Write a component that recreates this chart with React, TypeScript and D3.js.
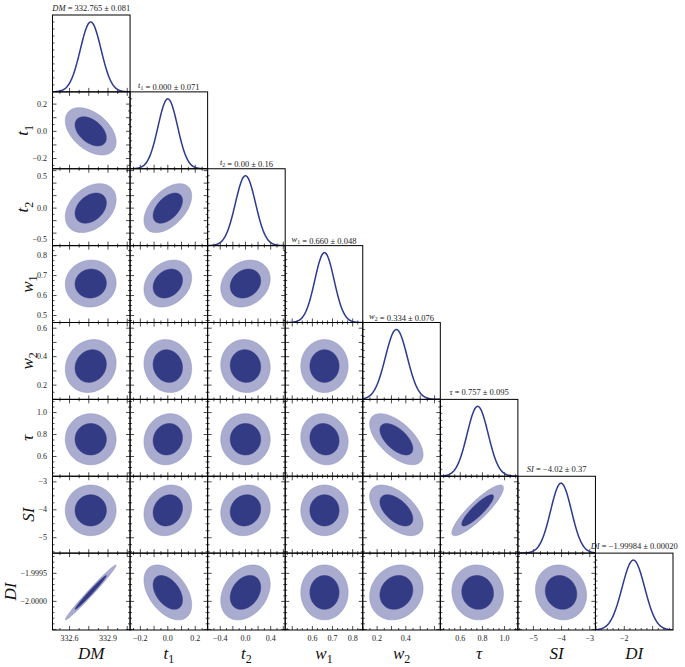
import { useEffect, useRef } from 'react';
import * as d3 from 'd3';

// parameter names (base + subscript)
const baseNames = ['DM', 't', 't', 'w', 'w', 'τ', 'SI', 'DI'];
const subNames = ['', '1', '2', '1', '2', '', '', ''];

// marginal summaries read from the titles
const means = [332.765, 0.0, 0.0, 0.66, 0.334, 0.757, -4.02, -1.99984];
const sigmas = [0.081, 0.071, 0.16, 0.048, 0.076, 0.095, 0.37, 0.0002];
const meanText = ['332.765', '0.000', '0.00', '0.660', '0.334', '0.757', '−4.02', '−1.99984'];
const sigmaText = ['0.081', '0.071', '0.16', '0.048', '0.076', '0.095', '0.37', '0.00020'];

// axis ranges
const lows = [332.467, -0.275, -0.6, 0.465, 0.1, 0.42, -5.55, -2.00051];
const highs = [333.072, 0.29, 0.63, 0.85, 0.64, 1.12, -2.8, -1.99914];

// ticks
const majorSteps = [0.15, 0.1, 0.2, 0.1, 0.1, 0.2, 1, 0.0005];
const minorSteps = [0.075, 0.05, 0.1, 0.025, 0.05, 0.05, 0.25, 0.0001];
const xTickLabels = [[332.6, 332.9], [-0.2, 0, 0.2], [-0.4, 0, 0.4], [0.6, 0.7, 0.8], [0.2, 0.4], [0.6, 0.8, 1.0], [-5, -4, -3], [-2]];
const yTickLabels = [[], [-0.2, 0, 0.2], [-0.5, 0, 0.5], [0.5, 0.6, 0.7, 0.8], [0.2, 0.4, 0.6], [0.6, 0.8, 1.0], [-5, -4, -3], [-2.0, -1.9995]];
const xFormats = ['.1f', '.1f', '.1f', '.1f', '.1f', '.1f', 'd', 'd'];
const yFormats = ['.1f', '.1f', '.1f', '.1f', '.1f', '.1f', 'd', '.4f'];

// pairwise correlations (row param vs earlier column params)
const correlations = [
  [],
  [-0.45],
  [0.35, 0.5],
  [0.03, 0.25, 0.2],
  [0.12, -0.1, -0.05, 0.0],
  [0.0, 0.1, 0.0, -0.1, -0.6],
  [0.0, 0.15, 0.1, 0.0, -0.55, 0.88],
  [0.987, -0.45, 0.3, 0.0, 0.15, -0.05, -0.1],
];

const DARK = '#323b84';
const LIGHT = '#a9abcf';
const LINE = '#2c3990';
const SERIF = '"Liberation Serif", "DejaVu Serif", serif';
const R68 = Math.sqrt(-2 * Math.log(0.32));
const R95 = Math.sqrt(-2 * Math.log(0.05));

function tickValues(i: number, step: number) {
  const anchor = xTickLabels[i][0];
  const out: number[] = [];
  const k0 = Math.ceil((lows[i] - anchor) / step - 1e-9);
  for (let k = k0; anchor + k * step <= highs[i] + 1e-12; k++) out.push(anchor + k * step);
  return out;
}

function addName(t: any, i: number, size: number, italicAll = true) {
  t.append('tspan').attr('font-style', italicAll ? 'italic' : 'italic').text(baseNames[i]);
  if (subNames[i]) {
    t.append('tspan').attr('font-size', size * 0.7).attr('dy', size * 0.25).text(subNames[i]);
    t.append('tspan').attr('dy', -size * 0.25).text('');
  }
}

export default function App() {
  const svgRef = useRef<SVGSVGElement>(null);

  useEffect(() => {
    if (!svgRef.current) return;
    const svg = d3.select(svgRef.current);
    svg.selectAll('*').remove();
    const n = baseNames.length;

    const colX = d3.scaleLinear().domain([0, n]).range([52.5, 673]);
    const rowY = d3.scaleLinear().domain([0, n]).range([15, 630]);
    const xs = baseNames.map((_, i) => d3.scaleLinear().domain([lows[i], highs[i]]).range([colX(i), colX(i + 1)]));
    const ys = baseNames.map((_, i) => d3.scaleLinear().domain([lows[i], highs[i]]).range([rowY(i + 1), rowY(i)]));

    const defs = svg.append('defs');
    const tickG = svg.append('g').attr('stroke', '#000').attr('stroke-width', 0.7);

    for (let i = 0; i < n; i++) {
      for (let j = 0; j <= i; j++) {
        const x0 = colX(j), x1 = colX(j + 1), y0 = rowY(i), y1 = rowY(i + 1);
        const cid = `clip-${i}-${j}`;
        defs.append('clipPath').attr('id', cid)
          .append('rect').attr('x', x0).attr('y', y0).attr('width', x1 - x0).attr('height', y1 - y0);
        const g = svg.append('g').attr('clip-path', `url(#${cid})`);

        if (i === j) {
          // 1D marginal
          const dy = d3.scaleLinear().domain([0, 1.1]).range([y1, y0]);
          const xsamp = d3.range(0, 241).map(k => lows[i] + (highs[i] - lows[i]) * k / 240);
          const line = d3.line<number>()
            .x(v => xs[i](v))
            .y(v => dy(Math.exp(-0.5 * ((v - means[i]) / sigmas[i]) ** 2)))
            .curve(d3.curveMonotoneX);
          g.append('path').datum(xsamp).attr('d', line).attr('fill', 'none')
            .attr('stroke', LINE).attr('stroke-width', 1.5);

          // left density ticks
          d3.range(0.1, 1.1, 0.1).forEach(v => {
            tickG.append('line').attr('x1', x0).attr('x2', x0 + 2).attr('y1', dy(v)).attr('y2', dy(v));
          });
          // bottom ticks
          const maj = tickValues(i, majorSteps[i]);
          tickValues(i, minorSteps[i]).forEach(v => {
            const isMaj = maj.some(m => Math.abs(m - v) < minorSteps[i] * 0.01);
            const L = isMaj ? 4 : 2;
            tickG.append('line').attr('x1', xs[i](v)).attr('x2', xs[i](v)).attr('y1', y1).attr('y2', y1 - L);
          });

          // title
          const t = svg.append('text').attr('x', (x0 + x1) / 2).attr('y', y0 - 4)
            .attr('text-anchor', 'middle').attr('font-family', SERIF).attr('font-size', 8.5).attr('fill', '#222');
          addName(t, i, 8.5);
          t.append('tspan').text(` = ${meanText[i]} ± ${sigmaText[i]}`);
        } else {
          // 2D contours
          const rho = correlations[i][j];
          const ell = (r: number) => d3.range(0, 181).map(k => {
            const th = (2 * Math.PI * k) / 180;
            const u = r * Math.cos(th), w = r * Math.sin(th);
            return [means[j] + sigmas[j] * u, means[i] + sigmas[i] * (rho * u + Math.sqrt(1 - rho * rho) * w)];
          });
          const path = d3.line<number[]>().x(p => xs[j](p[0])).y(p => ys[i](p[1])).curve(d3.curveLinearClosed);
          g.append('path').attr('d', path(ell(R95))).attr('fill', LIGHT).attr('stroke', '#8c90bf').attr('stroke-width', 0.5);
          g.append('path').attr('d', path(ell(R68))).attr('fill', DARK).attr('stroke', DARK).attr('stroke-width', 0.5);

          // ticks on all four sides
          const majX = tickValues(j, majorSteps[j]);
          tickValues(j, minorSteps[j]).forEach(v => {
            const L = majX.some(m => Math.abs(m - v) < minorSteps[j] * 0.01) ? 4 : 2;
            tickG.append('line').attr('x1', xs[j](v)).attr('x2', xs[j](v)).attr('y1', y1).attr('y2', y1 - L);
            tickG.append('line').attr('x1', xs[j](v)).attr('x2', xs[j](v)).attr('y1', y0).attr('y2', y0 + L);
          });
          const majY = tickValues(i, majorSteps[i]);
          tickValues(i, minorSteps[i]).forEach(v => {
            const L = majY.some(m => Math.abs(m - v) < minorSteps[i] * 0.01) ? 4 : 2;
            tickG.append('line').attr('x1', x0).attr('x2', x0 + L).attr('y1', ys[i](v)).attr('y2', ys[i](v));
            tickG.append('line').attr('x1', x1).attr('x2', x1 - L).attr('y1', ys[i](v)).attr('y2', ys[i](v));
          });
        }

        svg.append('rect').attr('x', x0).attr('y', y0).attr('width', x1 - x0).attr('height', y1 - y0)
          .attr('fill', 'none').attr('stroke', '#000').attr('stroke-width', 1);
      }
    }

    // bottom tick labels and axis labels
    for (let j = 0; j < n; j++) {
      const f = d3.format(xFormats[j]);
      xTickLabels[j].forEach(v => {
        svg.append('text').attr('x', xs[j](v)).attr('y', rowY(n) + 11).attr('text-anchor', 'middle')
          .attr('font-family', SERIF).attr('font-size', 8).attr('fill', '#222').text(f(v));
      });
      const t = svg.append('text').attr('x', (colX(j) + colX(j + 1)) / 2).attr('y', 659)
        .attr('text-anchor', 'middle').attr('font-family', SERIF).attr('font-size', 17).attr('fill', '#111');
      addName(t, j, 17);
    }

    // left tick labels and axis labels
    for (let i = 1; i < n; i++) {
      const f = d3.format(yFormats[i]);
      let maxW = 0;
      yTickLabels[i].forEach(v => {
        const t = svg.append('text').attr('x', colX(0) - 5.5).attr('y', ys[i](v)).attr('dy', '0.32em')
          .attr('text-anchor', 'end').attr('font-family', SERIF).attr('font-size', 8).attr('fill', '#222').text(f(v));
        const w = (t.node() as SVGTextElement).getComputedTextLength();
        if (w > maxW) maxW = w;
      });
      const lx = colX(0) - 5.5 - maxW - 4;
      const t = svg.append('text')
        .attr('transform', `translate(${lx},${(rowY(i) + rowY(i + 1)) / 2}) rotate(-90)`)
        .attr('text-anchor', 'middle').attr('font-family', SERIF).attr('font-size', 17).attr('fill', '#111');
      addName(t, i, 17);
    }
  }, []);

  return (
    <svg ref={svgRef} width={685} height={667}
      style={{ position: 'absolute', left: 0, top: 0, display: 'block', background: '#fff' }} />
  );
}
